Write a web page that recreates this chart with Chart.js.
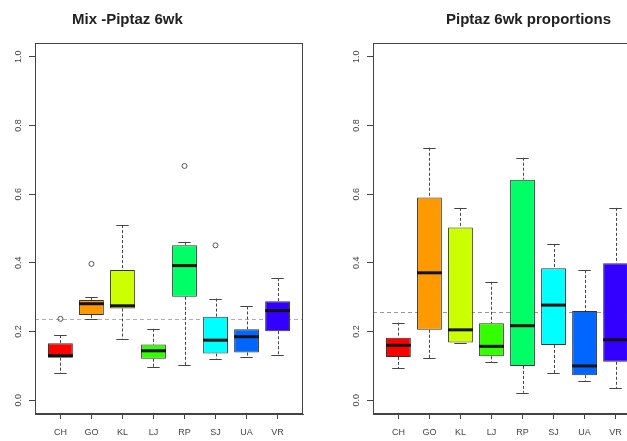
<!DOCTYPE html>
<html lang="fr">
<head>
<meta charset="utf-8">
<title>Piptaz 6wk - boxplots</title>
<script src="https://cdn.jsdelivr.net/npm/chart.js@4.4.1/dist/chart.umd.min.js"></script>
<style>
  html, body { margin: 0; padding: 0; background: #fff; overflow: hidden; }
  body { position: relative; width: 627px; height: 441px; }
  .panel { position: absolute; top: 0; width: 313px; height: 441px; }
  #panelMix { left: 0; }
  #panelProp { left: 338px; }
</style>
</head>
<body>
<div class="panel" id="panelMix"><canvas id="mixChart" width="313" height="441"></canvas></div>
<div class="panel" id="panelProp"><canvas id="propChart" width="313" height="441"></canvas></div>
<script>
// Sites (catégories) et couleurs des boîtes
const categories = ["CH", "GO", "KL", "LJ", "RP", "SJ", "UA", "VR"];
const boxColors = ["#FF0000", "#FF9900", "#CCFF00", "#33FF00", "#00FF66", "#00FFFF", "#0066FF", "#3300FF"];
const yTicks = [0, 0.2, 0.4, 0.6, 0.8, 1.0];

// Panneau gauche : Mix -Piptaz 6wk
const mixLow = [0.078, 0.238, 0.179, 0.096, 0.102, 0.120, 0.126, 0.131];
const mixQ1 = [0.124, 0.248, 0.267, 0.121, 0.301, 0.136, 0.139, 0.201];
const mixMed = [0.130, 0.281, 0.275, 0.144, 0.392, 0.175, 0.185, 0.261];
const mixQ3 = [0.166, 0.292, 0.379, 0.162, 0.451, 0.243, 0.207, 0.288];
const mixHigh = [0.190, 0.300, 0.510, 0.208, 0.461, 0.296, 0.273, 0.356];
const mixOutCat = ["CH", "GO", "RP", "SJ"];
const mixOutVal = [0.237, 0.397, 0.682, 0.451];
const mixRef = 0.238;

// Panneau droit : Piptaz 6wk proportions
const propLow = [0.093, 0.122, 0.168, 0.111, 0.022, 0.080, 0.057, 0.035];
const propQ1 = [0.126, 0.205, 0.168, 0.128, 0.100, 0.161, 0.073, 0.112];
const propMed = [0.160, 0.371, 0.205, 0.157, 0.217, 0.277, 0.100, 0.176];
const propQ3 = [0.182, 0.590, 0.503, 0.224, 0.642, 0.384, 0.260, 0.399];
const propHigh = [0.226, 0.735, 0.560, 0.345, 0.706, 0.455, 0.379, 0.560];
const propOutCat = [];
const propOutVal = [];
const propRef = 0.256;

const axisColor = "#444";
const textColor = "#444";

Chart.defaults.font.family = '"Liberation Sans", Arial, sans-serif';
Chart.defaults.font.size = 9;

// Plugin : moustaches, médianes, ligne de référence, cadre et titre
const boxplotPlugin = {
  id: "boxplot",
  beforeDatasetsDraw(chart, args, opts) {
    const { ctx, chartArea, scales: { y } } = chart;
    const bars = chart.getDatasetMeta(0).data;
    ctx.save();
    // ligne horizontale de référence
    const yRef = Math.round(y.getPixelForValue(opts.ref)) + 0.5;
    ctx.strokeStyle = opts.refColor;
    ctx.lineWidth = 1;
    ctx.setLineDash([4, 3]);
    ctx.beginPath();
    ctx.moveTo(chartArea.left, yRef);
    ctx.lineTo(chartArea.right, yRef);
    ctx.stroke();
    // moustaches en pointillés
    ctx.strokeStyle = axisColor;
    ctx.setLineDash([3, 2]);
    bars.forEach((bar, i) => {
      const px = Math.round(bar.x) + 0.5;
      ctx.beginPath();
      ctx.moveTo(px, y.getPixelForValue(opts.high[i]));
      ctx.lineTo(px, y.getPixelForValue(opts.q3[i]));
      ctx.moveTo(px, y.getPixelForValue(opts.q1[i]));
      ctx.lineTo(px, y.getPixelForValue(opts.low[i]));
      ctx.stroke();
    });
    // extrémités des moustaches
    ctx.setLineDash([]);
    bars.forEach((bar, i) => {
      const half = bar.width / 4;
      [opts.high[i], opts.low[i]].forEach((v) => {
        const py = Math.round(y.getPixelForValue(v)) + 0.5;
        ctx.beginPath();
        ctx.moveTo(bar.x - half, py);
        ctx.lineTo(bar.x + half, py);
        ctx.stroke();
      });
    });
    ctx.restore();
  },
  afterDatasetsDraw(chart, args, opts) {
    const { ctx, scales: { y } } = chart;
    const bars = chart.getDatasetMeta(0).data;
    ctx.save();
    // médianes en trait épais
    ctx.strokeStyle = "#111";
    ctx.lineWidth = 3;
    bars.forEach((bar, i) => {
      const py = y.getPixelForValue(opts.med[i]);
      ctx.beginPath();
      ctx.moveTo(bar.x - bar.width / 2, py);
      ctx.lineTo(bar.x + bar.width / 2, py);
      ctx.stroke();
    });
    ctx.restore();
  },
  afterDraw(chart, args, opts) {
    const { ctx, chartArea } = chart;
    ctx.save();
    // cadre autour de la zone de tracé
    ctx.strokeStyle = axisColor;
    ctx.lineWidth = 1;
    ctx.strokeRect(chartArea.left + 0.5, chartArea.top + 0.5,
      chartArea.right - chartArea.left - 1, chartArea.bottom - chartArea.top - 1);
    // titre
    ctx.fillStyle = "#222";
    ctx.font = 'bold 15px "Liberation Sans", Arial, sans-serif';
    ctx.textAlign = "left";
    ctx.textBaseline = "alphabetic";
    ctx.fillText(opts.title, opts.titleX, 24);
    ctx.restore();
  },
};

function makeBoxChart(canvasId, low, q1, med, q3, high, outCat, outVal, ref, refColor, title, titleX) {
  const ctx = document.getElementById(canvasId).getContext("2d");
  return new Chart(ctx, {
    type: "bar",
    plugins: [boxplotPlugin],
    data: {
      datasets: [
        {
          // boîtes : du premier au troisième quartile
          data: categories.map((c, i) => ({ x: i + 1, y: [q1[i], q3[i]] })),
          backgroundColor: boxColors,
          borderColor: "#333",
          borderWidth: 1,
          borderSkipped: false,
          barPercentage: 0.8,
          categoryPercentage: 1,
        },
        {
          // valeurs extrêmes (cercles vides)
          type: "scatter",
          data: outCat.map((c, k) => ({ x: categories.indexOf(c) + 1, y: outVal[k] })),
          pointStyle: "circle",
          pointRadius: 2.5,
          pointBorderWidth: 1,
          pointBorderColor: "#555",
          pointBackgroundColor: "rgba(0,0,0,0)",
        },
      ],
    },
    options: {
      responsive: false,
      animation: false,
      events: [],
      layout: { padding: { top: 43, right: 10, bottom: 0, left: 0 } },
      plugins: {
        legend: { display: false },
        tooltip: { enabled: false },
        boxplot: { low, q1, med, q3, high, ref, refColor, title, titleX },
      },
      scales: {
        x: {
          type: "linear",
          min: 0.18,
          max: 8.82,
          offset: false,
          grid: { drawOnChartArea: false, tickLength: 5, color: axisColor, offset: false },
          border: { display: true, color: axisColor },
          ticks: {
            autoSkip: false,
            maxRotation: 0,
            color: textColor,
            padding: 8,
            callback: (v) => categories[v - 1],
          },
          afterBuildTicks: (s) => { s.ticks = categories.map((c, i) => ({ value: i + 1 })); },
          afterFit: (s) => { s.height = 27; },
        },
        y: {
          min: -0.04,
          max: 1.04,
          grid: { drawOnChartArea: false, tickLength: 6, color: axisColor },
          border: { display: true, color: axisColor },
          ticks: {
            color: textColor,
            minRotation: 90,
            maxRotation: 90,
            crossAlign: "center",
            padding: 4,
            callback: (v) => v.toFixed(1),
          },
          afterBuildTicks: (s) => { s.ticks = yTicks.map((v) => ({ value: v })); },
          afterFit: (s) => { s.width = 35; },
        },
      },
    },
  });
}

document.addEventListener("DOMContentLoaded", () => {
  makeBoxChart("mixChart", mixLow, mixQ1, mixMed, mixQ3, mixHigh, mixOutCat, mixOutVal,
    mixRef, "#b0aad0", "Mix -Piptaz 6wk", 72);
  makeBoxChart("propChart", propLow, propQ1, propMed, propQ3, propHigh, propOutCat, propOutVal,
    propRef, "#999", "Piptaz 6wk proportions", 108);
});
</script>
</body>
</html>
